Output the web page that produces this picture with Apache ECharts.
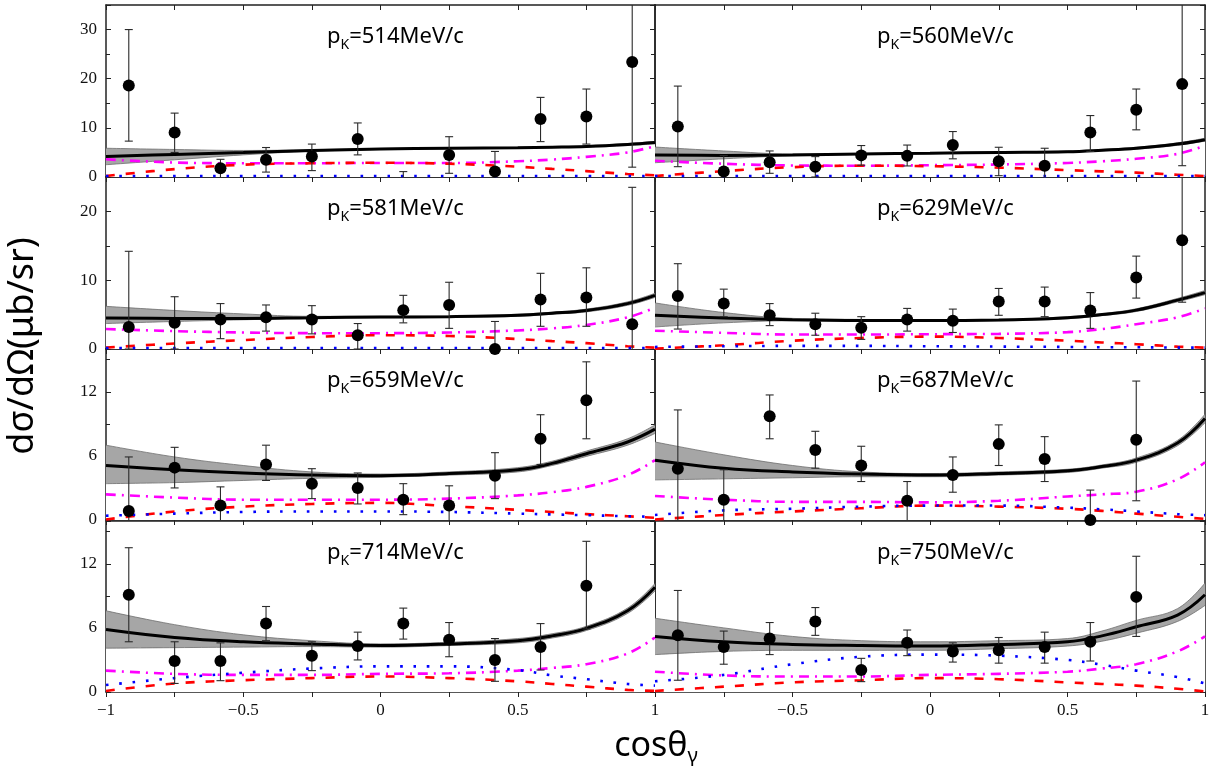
<!DOCTYPE html>
<html>
<head>
<meta charset="utf-8">
<script src="https://cdn.jsdelivr.net/npm/echarts@6/dist/echarts.min.js"></script>
<style>
html, body { margin: 0; padding: 0; background: #fff; }
#chart { width: 1214px; height: 771px; }
</style>
</head>
<body>
<div id="chart"></div>
<script>
// beam momenta of the eight panels (MeV/c), left to right, top to bottom
const MOMENTA = [514, 560, 581, 629, 659, 687, 714, 750]
const Y_MAX = [35, 35, 25, 25, 16, 16, 16, 16]
const Y_STEP = [10, 10, 10, 10, 6, 6, 6, 6]

// bin centres of the data points
const X_BINS = [-0.917, -0.75, -0.583, -0.417, -0.25, -0.083, 0.083, 0.25, 0.417, 0.583, 0.75, 0.917]

// measured dσ/dΩ with error bar ends (null = no point)
const PT_Y = [
    [18.6, 9.05, 1.8, 3.5, 4.15, 7.75, -0.8, 4.5, 1.1, 11.8, 12.3, 23.4],
    [10.3, 1.1, 3.0, 2.1, 4.4, 4.3, 6.5, 3.2, 2.3, 9.05, 13.7, 18.9],
    [3.2, 3.8, 4.3, 4.6, 4.3, 2.0, 5.65, 6.4, 0.0, 7.2, 7.5, 3.6],
    [7.7, 6.6, 4.9, 3.6, 3.1, 4.3, 4.1, 6.9, 6.9, 5.6, 10.4, 15.8],
    [0.85, 4.9, 1.35, 5.2, 3.4, 3.0, 1.9, 1.35, 4.15, 7.6, 11.2, null],
    [4.8, 1.9, 9.7, 6.55, 5.1, 1.8, 4.2, 7.1, 5.7, 0.0, 7.5, null],
    [9.1, 2.9, 2.9, 6.4, 3.4, 4.3, 6.4, 4.9, 3.0, 4.2, 9.95, null],
    [5.3, 4.2, 5.0, 6.6, 2.06, 4.6, 3.8, 3.9, 4.2, 4.7, 8.9, null]
]
const PT_LO = [
    [7.3, 5.0, -1, 1.0, 1.3, 4.5, -3, 0.75, -2, 7.2, 6.7, 2.0],
    [2.1, -1, 0.75, 0.0, 2.4, 2.25, 3.7, 0.27, -0.5, 5.2, 9.6, 2.3],
    [0.0, 0.0, 1.5, 2.6, 2.2, 0.0, 3.8, 3.0, -3, 3.3, 3.3, -1],
    [2.9, 4.7, 3.4, 2.0, 1.4, 2.6, 2.4, 4.9, 4.7, 3.0, 7.4, 6.8],
    [-1, 3.0, -1, 3.7, 2.0, 1.5, 0.5, -1, 2.0, 5.2, 7.6, null],
    [-1, -1, 7.6, 4.85, 3.6, -1, 2.6, 5.1, 3.6, -1, 1.8, null],
    [4.7, 0.8, 1.06, 4.8, 2.0, 3.0, 4.95, 3.3, 1.0, 2.06, 5.9, null],
    [1.1, 2.6, 3.5, 5.3, 0.97, 3.4, 2.8, 2.7, 2.7, 2.9, 5.2, null]
]
const PT_HI = [
    [30.0, 13.0, 3.6, 6.0, 6.7, 11.0, 1.1, 8.2, 5.2, 16.2, 17.9, 40],
    [18.5, 4.35, 5.3, 4.15, 6.4, 6.5, 9.25, 6.05, 5.85, 12.5, 17.9, 40],
    [14.2, 7.6, 6.6, 6.4, 6.3, 3.7, 7.8, 9.7, 4.0, 11.0, 11.8, 23.5],
    [12.4, 8.7, 6.6, 5.2, 4.7, 5.9, 5.8, 8.8, 9.0, 8.2, 13.5, 40],
    [5.9, 6.8, 3.1, 7.0, 4.8, 4.4, 3.4, 3.2, 6.3, 9.85, 14.8, null],
    [10.3, 4.7, 11.7, 8.3, 6.9, 3.6, 5.9, 8.9, 7.8, 2.8, 13.0, null],
    [13.5, 4.7, 4.6, 8.0, 4.7, 5.6, 7.85, 6.5, 5.0, 6.4, 14.1, null],
    [9.5, 5.7, 6.5, 7.9, 3.15, 5.8, 4.6, 5.1, 5.6, 6.5, 12.7, null]
]

// model curves, sampled at CURVE_X
const CURVE_X = [-1, -0.75, -0.5, -0.25, 0, 0.25, 0.5, 0.625, 0.75, 0.9, 1]
const TOTAL = [
    [4.15, 4.6, 5.0, 5.4, 5.7, 5.85, 5.95, 6.05, 6.2, 6.6, 7.0],
    [4.5, 4.4, 4.5, 4.7, 4.85, 5.0, 5.15, 5.45, 5.85, 6.7, 7.6],
    [4.5, 4.45, 4.45, 4.55, 4.65, 4.7, 4.9, 5.2, 5.6, 6.6, 7.8],
    [4.9, 4.5, 4.25, 4.15, 4.15, 4.2, 4.55, 5.0, 5.65, 7.1, 8.2],
    [5.1, 4.7, 4.4, 4.2, 4.15, 4.35, 4.7, 5.3, 6.2, 7.3, 8.5],
    [5.6, 4.85, 4.5, 4.3, 4.2, 4.35, 4.6, 5.0, 5.6, 7.2, 9.5],
    [5.85, 5.1, 4.7, 4.5, 4.35, 4.5, 4.8, 5.25, 5.95, 7.6, 9.8],
    [5.2, 4.7, 4.45, 4.35, 4.3, 4.45, 4.7, 5.25, 6.1, 7.2, 9.1]
]
const BAND_LO = [
    [2.5, 3.5, 4.5, 5.25, 5.6, 5.75, 5.85, 5.95, 6.05, 6.4, 6.75],
    [2.9, 3.7, 4.35, 4.6, 4.75, 4.9, 5.0, 5.3, 5.65, 6.45, 7.3],
    [3.7, 4.0, 4.25, 4.45, 4.55, 4.6, 4.75, 5.05, 5.4, 6.35, 7.5],
    [3.2, 3.8, 4.1, 4.05, 4.05, 4.1, 4.4, 4.85, 5.45, 6.85, 7.9],
    [3.4, 3.5, 3.7, 3.9, 4.0, 4.2, 4.5, 5.1, 5.95, 7.0, 8.1],
    [3.75, 3.85, 3.95, 4.05, 4.05, 4.2, 4.45, 4.85, 5.4, 6.95, 9.1],
    [4.1, 4.15, 4.2, 4.25, 4.2, 4.35, 4.6, 5.05, 5.75, 7.35, 9.45],
    [3.5, 3.8, 3.9, 3.9, 3.9, 4.05, 4.3, 4.75, 5.5, 6.6, 8.1]
]
const BAND_HI = [
    [5.85, 5.6, 5.4, 5.55, 5.8, 5.95, 6.05, 6.2, 6.35, 6.8, 7.25],
    [6.1, 5.3, 4.7, 4.8, 4.95, 5.1, 5.3, 5.6, 6.05, 6.95, 7.9],
    [6.2, 5.6, 5.1, 4.75, 4.75, 4.8, 5.05, 5.35, 5.8, 6.85, 8.1],
    [6.7, 5.3, 4.45, 4.3, 4.25, 4.3, 4.7, 5.15, 5.85, 7.35, 8.5],
    [7.0, 5.9, 5.1, 4.5, 4.3, 4.5, 4.9, 5.5, 6.45, 7.6, 8.9],
    [7.3, 6.1, 5.1, 4.5, 4.35, 4.5, 4.75, 5.15, 5.8, 7.45, 9.9],
    [7.6, 6.3, 5.35, 4.8, 4.5, 4.65, 5.0, 5.45, 6.15, 7.85, 10.15],
    [6.9, 6.0, 5.2, 4.8, 4.7, 4.8, 5.0, 5.7, 6.7, 7.8, 10.2]
]
const MAGENTA = [
    [3.6, 2.95, 2.8, 2.8, 2.85, 2.85, 3.2, 3.55, 4.1, 5.0, 6.3],
    [3.3, 2.7, 2.35, 2.3, 2.4, 2.55, 2.85, 3.2, 3.7, 4.7, 6.4],
    [2.9, 2.6, 2.4, 2.3, 2.3, 2.4, 2.7, 3.0, 3.5, 4.6, 6.0],
    [2.65, 2.35, 2.1, 2.1, 2.15, 2.2, 2.45, 2.9, 3.6, 4.6, 5.9],
    [2.4, 2.1, 1.9, 1.9, 1.9, 2.0, 2.3, 2.6, 3.1, 4.2, 5.6],
    [2.25, 1.9, 1.7, 1.7, 1.65, 1.8, 2.2, 2.4, 2.65, 3.8, 5.4],
    [2.0, 1.7, 1.6, 1.6, 1.7, 1.75, 2.0, 2.25, 2.6, 3.6, 5.1],
    [1.9, 1.55, 1.45, 1.45, 1.6, 1.7, 1.9, 2.2, 2.6, 3.8, 5.2]
]
const RED = [
    [0.2, 1.6, 2.5, 2.8, 2.9, 2.7, 2.1, 1.65, 1.2, 0.6, 0.35],
    [0.2, 1.2, 2.0, 2.3, 2.2, 1.9, 1.4, 1.15, 0.9, 0.45, 0.2],
    [0.2, 0.8, 1.3, 1.75, 2.0, 1.9, 1.45, 1.15, 0.85, 0.4, 0.2],
    [0.05, 0.55, 1.2, 1.6, 1.8, 1.6, 1.2, 0.95, 0.7, 0.35, 0.2],
    [0.05, 0.8, 1.25, 1.5, 1.6, 1.3, 0.95, 0.75, 0.55, 0.35, 0.2],
    [0.05, 0.47, 0.8, 1.1, 1.35, 1.25, 1.05, 0.85, 0.6, 0.3, 0.1],
    [0.1, 0.8, 1.1, 1.3, 1.45, 1.3, 1.0, 0.75, 0.5, 0.2, 0.1],
    [0.1, 0.5, 0.9, 1.1, 1.3, 1.2, 0.9, 0.75, 0.6, 0.3, 0.05]
]
const BLUE = [
    [0.2, 0.2, 0.2, 0.2, 0.2, 0.2, 0.2, 0.2, 0.2, 0.2, 0.2],
    [0.2, 0.2, 0.2, 0.2, 0.2, 0.2, 0.2, 0.2, 0.2, 0.2, 0.2],
    [0.15, 0.15, 0.15, 0.15, 0.15, 0.15, 0.15, 0.15, 0.15, 0.15, 0.15],
    [0.3, 0.4, 0.45, 0.45, 0.4, 0.35, 0.3, 0.25, 0.25, 0.2, 0.2],
    [0.4, 0.6, 0.75, 0.8, 0.8, 0.75, 0.6, 0.52, 0.45, 0.35, 0.3],
    [0.47, 0.9, 1.05, 1.25, 1.35, 1.35, 1.15, 1.0, 0.8, 0.55, 0.45],
    [0.65, 1.3, 1.8, 2.2, 2.4, 2.4, 2.05, 1.55, 1.2, 0.75, 0.6],
    [1.0, 1.6, 2.6, 3.3, 3.5, 3.4, 3.0, 2.55, 2.0, 1.4, 0.8]
]

const ROW_TOP = [5, 177, 349, 521]
const ROW_H = [172, 172, 171, 171]
const TICK_FONT = 'Liberation Serif'
const TEXT_FONT = 'Noto Sans'
const AXIS_LINE = { lineStyle: { color: '#222', width: 1.5 } }

let chart = echarts.init(document.getElementById('chart'))

function renderErr(params, api) {
    let x = api.value(0)
    let a = api.coord([x, api.value(2)])
    let b = api.coord([x, api.value(1)])
    let style = { stroke: '#2a2a2a', lineWidth: 1.1 }
    return {
        type: 'group',
        children: [
            { type: 'line', shape: { x1: a[0], y1: a[1], x2: b[0], y2: b[1] }, style },
            { type: 'line', shape: { x1: a[0] - 4, y1: a[1], x2: a[0] + 4, y2: a[1] }, style },
            { type: 'line', shape: { x1: b[0] - 4, y1: b[1], x2: b[0] + 4, y2: b[1] }, style }
        ]
    }
}

function xLabel(col) {
    return v => {
        if (Math.abs(v * 2 - Math.round(v * 2)) > 1e-6) return ''
        if (col === 1 && v === -1) return ''
        return v < 0 ? '\u2212' + String(-v) : String(v)
    }
}

let grids = [], xAxes = [], yAxes = [], series = [], titles = []

MOMENTA.forEach((pk, i) => {
    let row = Math.floor(i / 2)
    let col = i % 2
    grids.push({
        left: col ? 655 : 106,
        width: col ? 550 : 549,
        top: ROW_TOP[row],
        height: ROW_H[row]
    })
    // bottom and top x axes
    xAxes.push({
        gridIndex: i, type: 'value', min: -1, max: 1, interval: 0.25, position: 'bottom',
        axisLine: Object.assign({ onZero: false }, AXIS_LINE),
        axisTick: { inside: false, length: 5, lineStyle: { color: '#222' } },
        axisLabel: {
            show: row === 3, formatter: xLabel(col), margin: 10,
            fontFamily: TICK_FONT, fontSize: 17, color: '#111'
        },
        splitLine: { show: false }
    })
    xAxes.push({
        gridIndex: i, type: 'value', min: -1, max: 1, interval: 0.25, position: 'top',
        axisLine: Object.assign({ onZero: false }, AXIS_LINE),
        axisTick: { show: row === 0, inside: true, length: 5, lineStyle: { color: '#222' } },
        axisLabel: { show: false },
        splitLine: { show: false }
    })
    // left and right y axes
    yAxes.push({
        gridIndex: i, type: 'value', min: 0, max: Y_MAX[i], interval: Y_STEP[i], position: 'left',
        axisLine: Object.assign({ show: true, onZero: false }, AXIS_LINE),
        axisTick: { show: col === 0, inside: true, length: 5, lineStyle: { color: '#222' } },
        minorTick: { show: col === 0, splitNumber: 2, length: 4, lineStyle: { color: '#222' } },
        axisLabel: {
            show: col === 0, margin: 9, showMaxLabel: false,
            fontFamily: TICK_FONT, fontSize: 17, color: '#111'
        },
        splitLine: { show: false }
    })
    yAxes.push({
        gridIndex: i, type: 'value', min: 0, max: Y_MAX[i], interval: Y_STEP[i], position: 'right',
        axisLine: Object.assign({ show: true, onZero: false }, AXIS_LINE),
        axisTick: { show: true, inside: true, length: 5, lineStyle: { color: '#222' } },
        minorTick: { show: true, splitNumber: 2, length: 4, lineStyle: { color: '#222' } },
        axisLabel: { show: false },
        splitLine: { show: false }
    })

    let xi = 2 * i, yi = 2 * i
    let common = {
        type: 'line', xAxisIndex: xi, yAxisIndex: yi, symbol: 'none', silent: true,
        smooth: 0.4, animation: false
    }
    // uncertainty band: grey fill under the upper edge, white fill under the lower edge
    series.push(Object.assign({}, common, {
        z: 1,
        data: CURVE_X.map((x, k) => [x, BAND_HI[i][k]]),
        lineStyle: { color: '#6d6d6d', width: 0.8 },
        areaStyle: { color: '#a6a6a6', opacity: 1 }
    }))
    series.push(Object.assign({}, common, {
        z: 2,
        data: CURVE_X.map((x, k) => [x, BAND_LO[i][k]]),
        lineStyle: { color: '#6d6d6d', width: 0.8 },
        areaStyle: { color: '#ffffff', opacity: 1 }
    }))
    series.push(Object.assign({}, common, {
        z: 3,
        data: CURVE_X.map((x, k) => [x, MAGENTA[i][k]]),
        lineStyle: { color: '#ff00ff', width: 2.6, type: [10, 6, 2, 6] }
    }))
    series.push(Object.assign({}, common, {
        z: 3,
        data: CURVE_X.map((x, k) => [x, RED[i][k]]),
        lineStyle: { color: '#ff0000', width: 2.6, type: [9, 11] }
    }))
    series.push(Object.assign({}, common, {
        z: 3,
        data: CURVE_X.map((x, k) => [x, BLUE[i][k]]),
        lineStyle: { color: '#0000ff', width: 2.6, type: [2.6, 10.8] }
    }))
    series.push(Object.assign({}, common, {
        z: 4,
        data: CURVE_X.map((x, k) => [x, TOTAL[i][k]]),
        lineStyle: { color: '#000', width: 3 }
    }))

    let errData = [], ptData = []
    X_BINS.forEach((x, k) => {
        if (PT_Y[i][k] === null) return
        errData.push([x, PT_LO[i][k], PT_HI[i][k]])
        ptData.push([x, PT_Y[i][k]])
    })
    series.push({
        type: 'custom', xAxisIndex: xi, yAxisIndex: yi, z: 5, silent: true, clip: true,
        renderItem: renderErr, encode: { x: 0, y: [1, 2] }, data: errData, animation: false
    })
    series.push({
        type: 'scatter', xAxisIndex: xi, yAxisIndex: yi, z: 6, silent: true,
        symbol: 'circle', symbolSize: 12, itemStyle: { color: '#000', opacity: 1 },
        data: ptData, animation: false
    })

    titles.push({
        text: '{n|p}{s|K}{n|=' + pk + 'MeV/c}',
        left: col ? 872 : 322,
        top: ROW_TOP[row] + 12,
        textStyle: {
            fontWeight: 'normal',
            rich: {
                n: { fontFamily: TEXT_FONT, fontSize: 22, fontWeight: 'normal', lineHeight: 30, color: '#000' },
                s: { fontFamily: TEXT_FONT, fontSize: 14, fontWeight: 'normal', lineHeight: 14, verticalAlign: 'bottom', color: '#000' }
            }
        }
    })
})

chart.setOption({
    animation: false,
    backgroundColor: '#fff',
    title: titles,
    grid: grids,
    xAxis: xAxes,
    yAxis: yAxes,
    series: series,
    graphic: [
        {
            type: 'text', x: 23, y: 346, rotation: Math.PI / 2,
            style: {
                text: 'dσ/dΩ(μb/sr)', fontFamily: TEXT_FONT, fontSize: 36,
                fill: '#000', align: 'center', verticalAlign: 'middle'
            }
        },
        {
            type: 'text', x: 656, y: 746,
            style: {
                text: '{n|cosθ}{s|γ}', align: 'center', verticalAlign: 'middle',
                rich: {
                    n: { fontFamily: TEXT_FONT, fontSize: 34, lineHeight: 40, fill: '#000' },
                    s: { fontFamily: TEXT_FONT, fontSize: 20, lineHeight: 20, verticalAlign: 'bottom', fill: '#000' }
                }
            }
        }
    ]
})
</script>
</body>
</html>
